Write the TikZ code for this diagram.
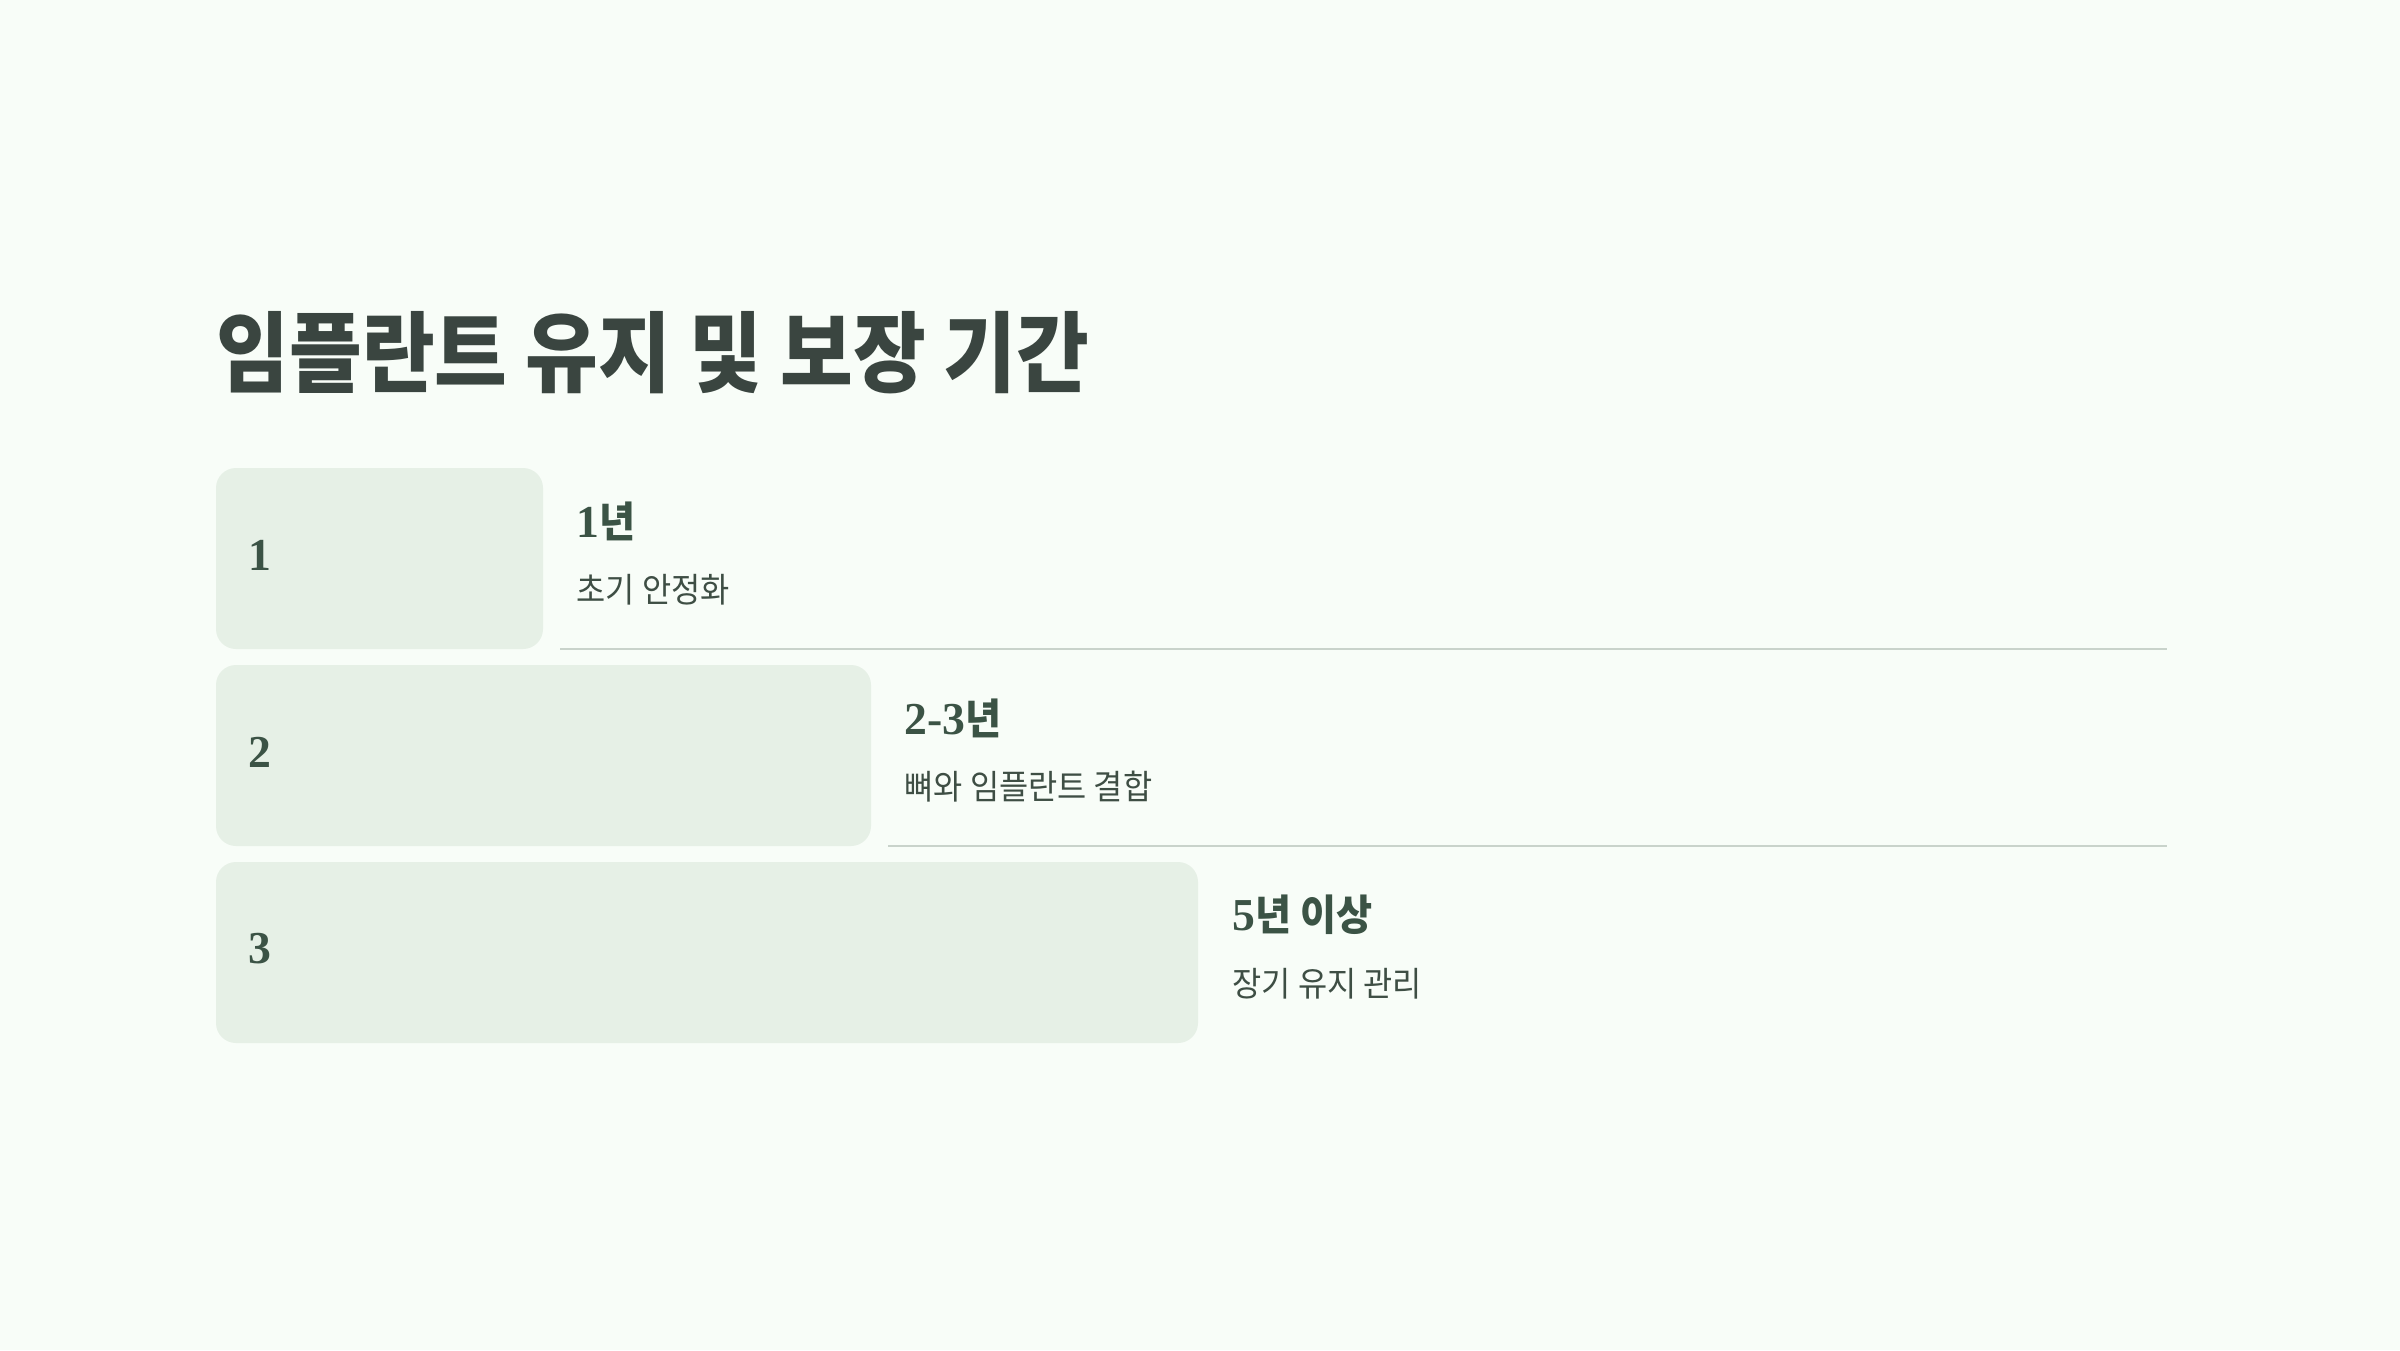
\documentclass[tikz,border=0pt]{standalone}
\usepackage{fontspec}
\setmainfont{Liberation Serif}
\newfontfamily\krtitle[FakeStretch=0.9]{Noto Sans CJK KR}
\newfontfamily\krfont[FakeStretch=0.93]{Noto Sans CJK KR}
\definecolor{bgc}{HTML}{F8FDF8}
\definecolor{boxc}{HTML}{E6F0E6}
\definecolor{titlec}{HTML}{3A4540}
\definecolor{numc}{HTML}{3B5345}
\definecolor{subc}{HTML}{3E4E44}
\definecolor{linec}{HTML}{C9D3CB}
\tikzset{
  stepbox/.style={fill=boxc, draw=none, rounded corners=2mm},
  numlabel/.style={anchor=west, inner sep=0pt, text=numc, font=\fontsize{13pt}{15pt}\selectfont\bfseries},
  headlabel/.style={anchor=west, inner sep=0pt, text=numc, font=\fontsize{13pt}{15pt}\selectfont\bfseries},
  sublabel/.style={anchor=west, inner sep=0pt, text=subc, font=\krfont\fontsize{9.7pt}{12pt}\selectfont},
  sepline/.style={draw=linec, line width=0.6pt}
}
\begin{document}
\begin{tikzpicture}[x=0.1mm,y=-0.1mm]
\useasboundingbox[fill=bgc] (0,0) rectangle (2400,1350);
\node[anchor=west, inner sep=0pt, text=titlec, font=\krtitle\fontsize{25pt}{30pt}\selectfont\bfseries] (title) at (216,353) {임플란트 유지 및 보장 기간};
% boxes
\path[stepbox] (216,468) rectangle (543,649) coordinate (b1se);
\path[stepbox] (216,665) rectangle (871,846) coordinate (b2se);
\path[stepbox] (216,862) rectangle (1198,1043) coordinate (b3se);
% numbers
\node[numlabel] (n1) at (248,555) {1};
\node[numlabel] (n2) at (248,752) {2};
\node[numlabel] (n3) at (248,949) {3};
% headings
\node[headlabel] (h1) at (576,521) {1{\krfont\fontsize{12pt}{15pt}\selectfont 년}};
\node[headlabel] (h2) at (904,718) {2-3{\krfont\fontsize{12pt}{15pt}\selectfont 년}};
\node[headlabel] (h3) at (1232,915) {5{\krfont\fontsize{12pt}{15pt}\selectfont 년 이상}};
% subtitles
\node[sublabel] (s1) at (576,590) {초기 안정화};
\node[sublabel] (s2) at (904,787) {뼈와 임플란트 결합};
\node[sublabel] (s3) at (1232,984) {장기 유지 관리};
% separators
\coordinate (l1a) at (560,649);
\coordinate (l1b) at (2167,649);
\coordinate (l2a) at (888,846);
\coordinate (l2b) at (2167,846);
\draw[sepline] (l1a) -- (l1b);
\draw[sepline] (l2a) -- (l2b);
\end{tikzpicture}
\end{document}
